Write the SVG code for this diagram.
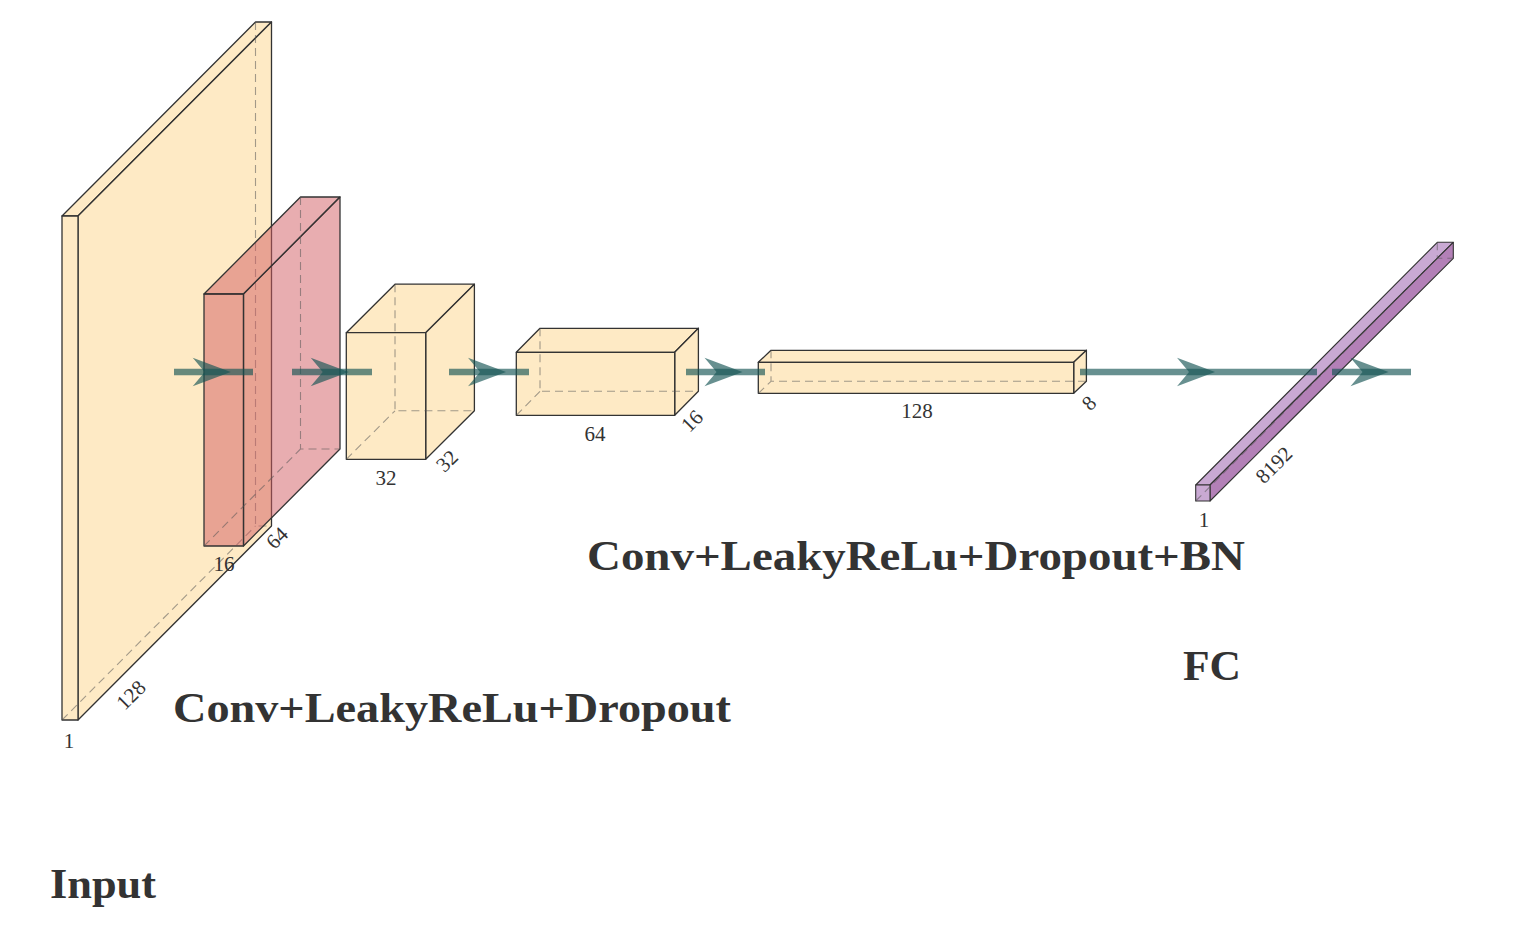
<svg xmlns="http://www.w3.org/2000/svg" width="1521" height="936" viewBox="0 0 1521 936">
<style>
.edge{stroke:#333;stroke-width:1.3;stroke-linejoin:round;fill:none}
.yel{fill:#FEEAC5;stroke:#333;stroke-width:1.3;stroke-linejoin:round}
.red{fill:rgb(209,91,97);fill-opacity:0.5;stroke:#333;stroke-width:1.3;stroke-linejoin:round}
.fcl{fill:#C9A9D3;stroke:#333;stroke-width:1.1;stroke-linejoin:round}
.fcd{fill:#B380B7;stroke:#333;stroke-width:1.1;stroke-linejoin:round}
.hid{stroke:#555;stroke-opacity:0.55;stroke-width:1.1;stroke-dasharray:8 5;fill:none}
.dim{font-family:"Liberation Serif",serif;font-size:21px;fill:#333;text-anchor:middle}
.big{font-family:"Liberation Serif",serif;font-size:42px;font-weight:bold;fill:#333}
.cl{stroke:rgb(21,85,85);stroke-opacity:0.65;stroke-width:6.5;fill:none}
.ah{fill:rgb(21,85,85);fill-opacity:0.65}
</style>
<rect width="1521" height="936" fill="#fff"/>

<g id="input">
<polygon class="yel" points="62,216 78,216 271.5,22 255.5,22"/>
<polygon class="yel" points="78,216 271.5,22 271.5,526 78,720"/>
<rect class="yel" x="62" y="216" width="16" height="504"/>
<path class="hid" d="M255.5,22 V526 H271.5 M62,720 L255.5,526"/>
<text class="dim" x="69" y="748">1</text>
<text class="dim" transform="translate(131,695) rotate(-45)" y="7">128</text>
</g>

<g id="conv1">
<polygon class="red" points="204,294 243.5,294 340,197 300.5,197"/>
<polygon class="red" points="243.5,294 340,197 340,449 243.5,546"/>
<rect class="red" x="204" y="294" width="39.5" height="252"/>
<path class="hid" d="M300.5,197 V449 H340 M204,546 L300.5,449"/>
<text class="dim" x="224" y="571">16</text>
<text class="dim" transform="translate(277,538) rotate(-45)" y="7">64</text>
</g>

<g id="conv2">
<polygon class="yel" points="346.3,332.7 425.7,332.7 474.4,284.2 395,284.2"/>
<polygon class="yel" points="425.7,332.7 474.4,284.2 474.4,410.8 425.7,459.3"/>
<rect class="yel" x="346.3" y="332.7" width="79.4" height="126.6"/>
<path class="hid" d="M395,284.2 V410.8 H474.4 M346.3,459.3 L395,410.8"/>
<text class="dim" x="386" y="485">32</text>
<text class="dim" transform="translate(447,461) rotate(-45)" y="7">32</text>
</g>

<g id="conv3">
<polygon class="yel" points="516.3,352.3 674.7,352.3 698.4,328.3 540,328.3"/>
<polygon class="yel" points="674.7,352.3 698.4,328.3 698.4,391.3 674.7,415.3"/>
<rect class="yel" x="516.3" y="352.3" width="158.4" height="63"/>
<path class="hid" d="M540,328.3 V391.3 H698.4 M516.3,415.3 L540,391.3"/>
<text class="dim" x="595" y="441">64</text>
<text class="dim" transform="translate(692,421) rotate(-45)" y="7">16</text>
</g>

<g id="conv4">
<polygon class="yel" points="758.3,362.3 1073.7,362.3 1086.4,350.3 771,350.3"/>
<polygon class="yel" points="1073.7,362.3 1086.4,350.3 1086.4,381.3 1073.7,393.3"/>
<rect class="yel" x="758.3" y="362.3" width="315.4" height="31"/>
<path class="hid" d="M771,350.3 V381.3 H1086.4 M758.3,393.3 L771,381.3"/>
<text class="dim" x="917" y="418">128</text>
<text class="dim" transform="translate(1089,403) rotate(-45)" y="7">8</text>
</g>

<g id="fc">
<polygon class="fcl" points="1195.7,485 1210,485 1453.3,242.3 1437.3,242.3"/>
<polygon class="fcd" points="1210,485 1453.3,242.3 1453.3,258.3 1210,501"/>
<rect class="fcl" x="1195.7" y="485" width="14.3" height="16"/>
<path class="hid" d="M1437.3,242.3 V258.3 H1453.3 M1195.7,501 L1437.3,258.3"/>
<text class="dim" x="1204" y="527">1</text>
<text class="dim" transform="translate(1274,465) rotate(-45)" y="7">8192</text>
</g>

<g id="connectors">
<line class="cl" x1="174" y1="372" x2="253" y2="372"/>
<path class="ah" d="M192.7,357.7 L230.7,372 L192.7,386.3 L204.7,372 Z"/>
<line class="cl" x1="292" y1="372" x2="372" y2="372"/>
<path class="ah" d="M310.7,357.7 L348.7,372 L310.7,386.3 L322.7,372 Z"/>
<line class="cl" x1="449" y1="372" x2="529" y2="372"/>
<path class="ah" d="M468,357.7 L506,372 L468,386.3 L480,372 Z"/>
<line class="cl" x1="686" y1="372" x2="765" y2="372"/>
<path class="ah" d="M704.5,357.7 L742.5,372 L704.5,386.3 L716.5,372 Z"/>
<line class="cl" x1="1080" y1="372" x2="1317" y2="372"/>
<path class="ah" d="M1177,357.7 L1215,372 L1177,386.3 L1189,372 Z"/>
<line class="cl" x1="1332" y1="372" x2="1411" y2="372"/>
<path class="ah" d="M1350.5,357.7 L1388.5,372 L1350.5,386.3 L1362.5,372 Z"/>
</g>

<g id="labels">
<text class="big" x="173" y="722" textLength="558" lengthAdjust="spacingAndGlyphs">Conv+LeakyReLu+Dropout</text>
<text class="big" x="587" y="570" textLength="658" lengthAdjust="spacingAndGlyphs">Conv+LeakyReLu+Dropout+BN</text>
<text class="big" x="1183" y="680" textLength="58" lengthAdjust="spacingAndGlyphs">FC</text>
<text class="big" x="50" y="898" textLength="106" lengthAdjust="spacingAndGlyphs">Input</text>
</g>
</svg>
